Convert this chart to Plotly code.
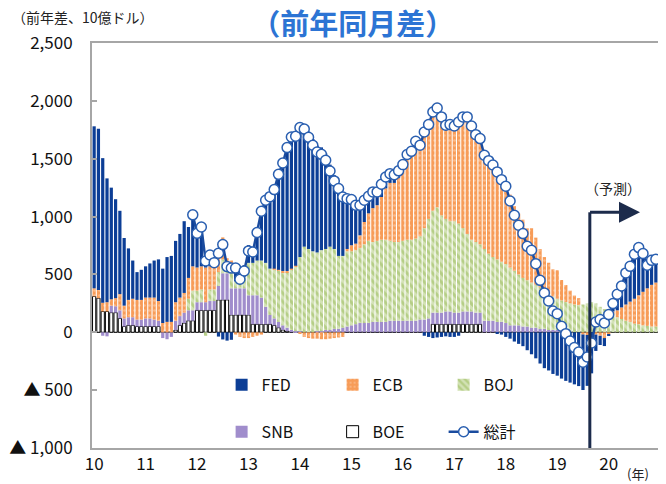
import plotly.graph_objects as go

# monthly, Jan 2010 - Dec 2020 (index 0..131); units: 10億ドル, 前年同月差
months = list(range(132))

boe = [310, 295, 180, 180, 170, 170, 120, 50, 60, 60, 50, 50,
       50, 50, 50, 50, 0, 0, 0, 20, 60, 80, 100, 100,
       190, 190, 190, 190, 190, 280, 280, 280, 150, 150, 150, 150,
       150, 70, 70, 70, 70, 70, 60, 40, 20, 10, 0, 0,
       0, 0, 0, 0, 0, 0, 0, 0, 0, 0, 0, 0,
       0, 0, 0, 0, 0, 0, 0, 0, 0, 0, 0, 0,
       0, 0, 0, 0, 0, 0, 0, 70, 70, 70, 70, 70,
       70, 70, 70, 70, 70, 70, 70, 0, 0, 0, 0, 0,
       0, 0, 0, 0, 0, 0, 0, 0, 0, 0, 0, 0,
       0, 0, 0, 0, 0, 0, 0, 0, 0, 0, 0, 0,
       0, 0, 0, 0, 0, 0, 0, 0, 0, 0, 0, 0]

snb = [0, 0, -30, -35, 60, 55, 70, 70, 70, 70, 60, 60,
       70, 70, 60, 50, -50, -60, -40, 80, 80, 90, 90, 90,
       70, 70, 70, 80, 80, 120, 230, 230, 230, 230, 230, 230,
       170, 250, 250, 230, 150, 80, 60, 50, 40, 30, 20, 10,
       10, 0, 0, 0, 10, 10, 20, 20, 30, 30, 40, 50,
       60, 70, 80, 80, 80, 90, 90, 90, 90, 100, 100, 100,
       100, 100, 100, 100, 110, 110, 120, 100, 100, 100, 110, 110,
       100, 100, 110, 110, 110, 100, 100, 100, 100, 100, 90, 90,
       80, 60, 60, 60, 50, 50, 40, 40, 30, 30, 20, 20,
       20, 10, 10, 0, 0, 0, 0, 0, 0, 0, 0, 0,
       0, 0, 0, 0, 0, 0, 0, 0, 0, 0, 0, 0]

boj = [0, 0, 0, 0, 0, 0, 0, 0, 0, 0, 0, 0,
       0, 0, 0, 0, 0, 0, 0, 0, 0, 0, 100, 170,
       100, 110, -30, 100, 100, 120, 120, 80, 150, 60, 60, 100,
       280, 280, 300, 320, 380, 400, 420, 440, 460, 480, 520, 560,
       640, 740, 720, 700, 680, 700, 700, 720, 690, 630, 620, 650,
       640, 640, 650, 680, 710, 690, 700, 710, 710, 690, 680, 680,
       690, 700, 700, 710, 720, 790, 860, 880, 910, 840, 800, 780,
       790, 770, 720, 670, 620, 610, 590, 620, 580, 550, 540, 520,
       510, 500, 470, 440, 420, 400, 390, 370, 360, 330, 310, 290,
       270, 265, 252, 250, 240, 235, 240, 250, 262, 250, 220, 200,
       180, 160, 130, 115, 100, 90, 75, 70, 60, 55, 50, 50]

ecb = [70, 70, 75, 80, 55, 70, 140, 110, 150, 160, 170, 170,
       180, 180, 190, 170, 80, 90, 90, 160, 160, 170, 180, 210,
       200, 200, 300, 200, 200, 200, 190, 50, 90, -20, -40, -50,
       -50, -40, -30, -20, 0, 0, 10, 10, 10, 10, 10, 5,
       -10, -40, -50, -55, -55, -60, -60, -55, -50, -45, -40, 20,
       52, 56, 108, 193, 238, 293, 308, 369, 444, 501, 511, 555,
       619, 716, 754, 841, 786, 861, 855, 904, 903, 891, 844, 875,
       863, 907, 961, 1011, 983, 928, 914, 810, 803, 796, 766, 729,
       712, 630, 561, 525, 503, 448, 469, 408, 329, 290, 271, 234,
       246, 177, 146, 110, 78, 60, -19, -23, 0, -20, -30, -50,
       -20, 20, 60, 100, 140, 175, 215, 250, 290, 325, 360, 380]

fed = [1400, 1395, 1250, 1070, 965, 855, 720, 585, 445, 330, 240, 260,
       270, 295, 320, 360, 470, 560, 570, 530, 550, 620, 440, 445,
       295, 340, 85, 98, 32, -37, -62, -72, -65, 135, 58, 100,
       153, 134, 272, 446, 541, 622, 683, 825, 933, 1066, 1138, 1119,
       1130, 1056, 1015, 971, 923, 888, 826, 709, 638, 627, 549, 435,
       395, 332, 260, 188, 147, 140, 115, 110, 98, 80, 70, 60,
       40, 20, 10, 0, 0, -30, -40, -50, -45, -40, -35, -40,
       -40, -30, 0, 0, 0, 0, 0, 0, 0, 0, -10, -20,
       -40, -55, -80, -100, -120, -155, -190, -225, -270, -310, -330, -360,
       -375, -400, -420, -435, -450, -465, -480, -440, -355, -141, -80, -69,
       -7, 68, 138, 185, 273, 305, 384, 412, 330, 199, 212, 201]

# 総計 (plotted from Dec 2011)
total = [None] * 23 + [
    1015,
    855, 910, 616, 668, 602, 683, 758, 568, 555, 555, 458, 530,
    703, 694, 862, 1046, 1141, 1172, 1233, 1365, 1463, 1596, 1688, 1694,
    1770, 1756, 1685, 1616, 1558, 1538, 1486, 1394, 1308, 1242, 1169, 1155,
    1147, 1098, 1098, 1141, 1175, 1213, 1213, 1279, 1342, 1371, 1361, 1395,
    1449, 1536, 1564, 1651, 1616, 1731, 1795, 1904, 1938, 1861, 1789, 1795,
    1783, 1817, 1861, 1861, 1783, 1708, 1674, 1530, 1483, 1446, 1386, 1319,
    1262, 1135, 1011, 925, 853, 743, 709, 593, 449, 340, 271, 184,
    161, 52, -12, -75, -132, -170, -259, -213, -92, 89, 110, 81,
    153, 248, 328, 400, 513, 570, 674, 732, 680, 579, 622, 631]

year_labels = ["10", "11", "12", "13", "14", "15", "16", "17", "18", "19", "20"]
year_label_pos = [0, 12, 24, 36, 48, 60, 72, 84, 96, 108, 120]   # January of each year

y_ticks = [-1000, -500, 0, 500, 1000, 1500, 2000, 2500]
y_tick_text = ["▲ 1,000", "▲ 500", "0", "500", "1,000", "1,500", "2,000", "2,500"]

forecast_x = 115.6      # start of forecast (Sep 2019)
arrow_end_x = 127.3
arrow_y = 1037

FONT = "Noto Sans CJK JP, Noto Sans, sans-serif"

fig = go.Figure()

fig.add_trace(go.Bar(x=months, y=boe, name="BOE", legend="legend2", legendrank=2,
                     marker=dict(color="white", line=dict(color="black", width=1))))
fig.add_trace(go.Bar(x=months, y=snb, name="SNB", legend="legend2", legendrank=1,
                     marker=dict(color="#A08DCC", line=dict(color="#8064A2", width=0))))
fig.add_trace(go.Bar(x=months, y=boj, name="BOJ", legend="legend", legendrank=3,
                     marker=dict(color="#D3E2B6", line=dict(width=0),
                                 pattern=dict(shape="\\", bgcolor="#D3E2B6", fgcolor="#97B955",
                                              size=6, solidity=0.5))))
fig.add_trace(go.Bar(x=months, y=ecb, name="ECB", legend="legend", legendrank=2,
                     marker=dict(color="#F79C58", line=dict(width=0),
                                 pattern=dict(shape=".", bgcolor="#F79C58", fgcolor="#FDD9BD",
                                              size=5, solidity=0.2))))
fig.add_trace(go.Bar(x=months, y=fed, name="FED", legend="legend", legendrank=1,
                     marker=dict(color="#0C3E96", line=dict(width=0))))
fig.add_trace(go.Scatter(x=months, y=total, name="総計", legend="legend2", legendrank=3,
                         mode="lines+markers",
                         line=dict(color="#1A4B9E", width=2.5),
                         marker=dict(symbol="circle", size=10, color="white",
                                     line=dict(color="#2A5FB0", width=1.5))))

fig.add_shape(type="line", x0=forecast_x, x1=forecast_x, y0=-1000, y1=arrow_y,
              xref="x", yref="y", line=dict(color="#1C2B4B", width=3))
fig.add_annotation(x=arrow_end_x, y=arrow_y, ax=forecast_x - 0.3, ay=arrow_y,
                   xref="x", yref="y", axref="x", ayref="y", text="",
                   showarrow=True, arrowhead=2, arrowsize=1.4, arrowwidth=3,
                   arrowcolor="#1C2B4B")
fig.add_annotation(x=forecast_x + 5.5, y=1244, xref="x", yref="y", text="（予測）",
                   showarrow=False, font=dict(size=14, color="#222"))

fig.add_annotation(x=-0.145, y=1.064, xref="paper", yref="paper",
                   xanchor="left", yanchor="middle",
                   text="（前年差、10億ドル）", showarrow=False,
                   font=dict(size=14, color="#222"))
fig.add_annotation(x=0.965, y=-0.064, xref="paper", yref="paper",
                   xanchor="center", yanchor="middle",
                   text="(年)", showarrow=False, font=dict(size=13, color="#222"))

legend_common = dict(orientation="h", xanchor="left", yanchor="middle",
                     bgcolor="rgba(0,0,0,0)", font=dict(size=16, color="#111"),
                     entrywidth=66, entrywidthmode="pixels", itemwidth=30,
                     traceorder="normal")

# the page adds an 8px body margin, so the figure is 8px smaller than the window
fig.update_layout(
    width=658, height=476, autosize=False,
    margin=dict(l=84, r=8, t=35, b=36),
    paper_bgcolor="white", plot_bgcolor="white",
    font=dict(family=FONT, color="#111"),
    barmode="relative", bargap=0.25,
    title=dict(text="<b>（前年同月差）</b>", x=0.524, xanchor="center", y=0.965,
               yanchor="middle", font=dict(size=29, color="#2C74D4")),
    legend=dict(x=0.229, y=0.156, **legend_common),
    legend2=dict(x=0.229, y=0.04, **legend_common),
)

fig.update_xaxes(range=[-0.5, 131.5], tickvals=year_label_pos, ticktext=year_labels,
                 ticks="", showline=True, linecolor="#A6A6A6", linewidth=1.5, mirror=True,
                 showgrid=False, zeroline=False, automargin=False,
                 tickfont=dict(size=17, color="#111"))
fig.update_yaxes(range=[-1000, 2500], tickvals=y_ticks, ticktext=y_tick_text,
                 ticks="inside", ticklen=5, tickcolor="#A6A6A6", tickwidth=1.5,
                 showline=True, linecolor="#A6A6A6", linewidth=2, mirror=True,
                 showgrid=False, zeroline=True, zerolinecolor="#A6A6A6", zerolinewidth=1.5,
                 automargin=False, ticklabelstandoff=14,
                 tickfont=dict(size=17, color="#111"))

fig.write_html("out.html")
